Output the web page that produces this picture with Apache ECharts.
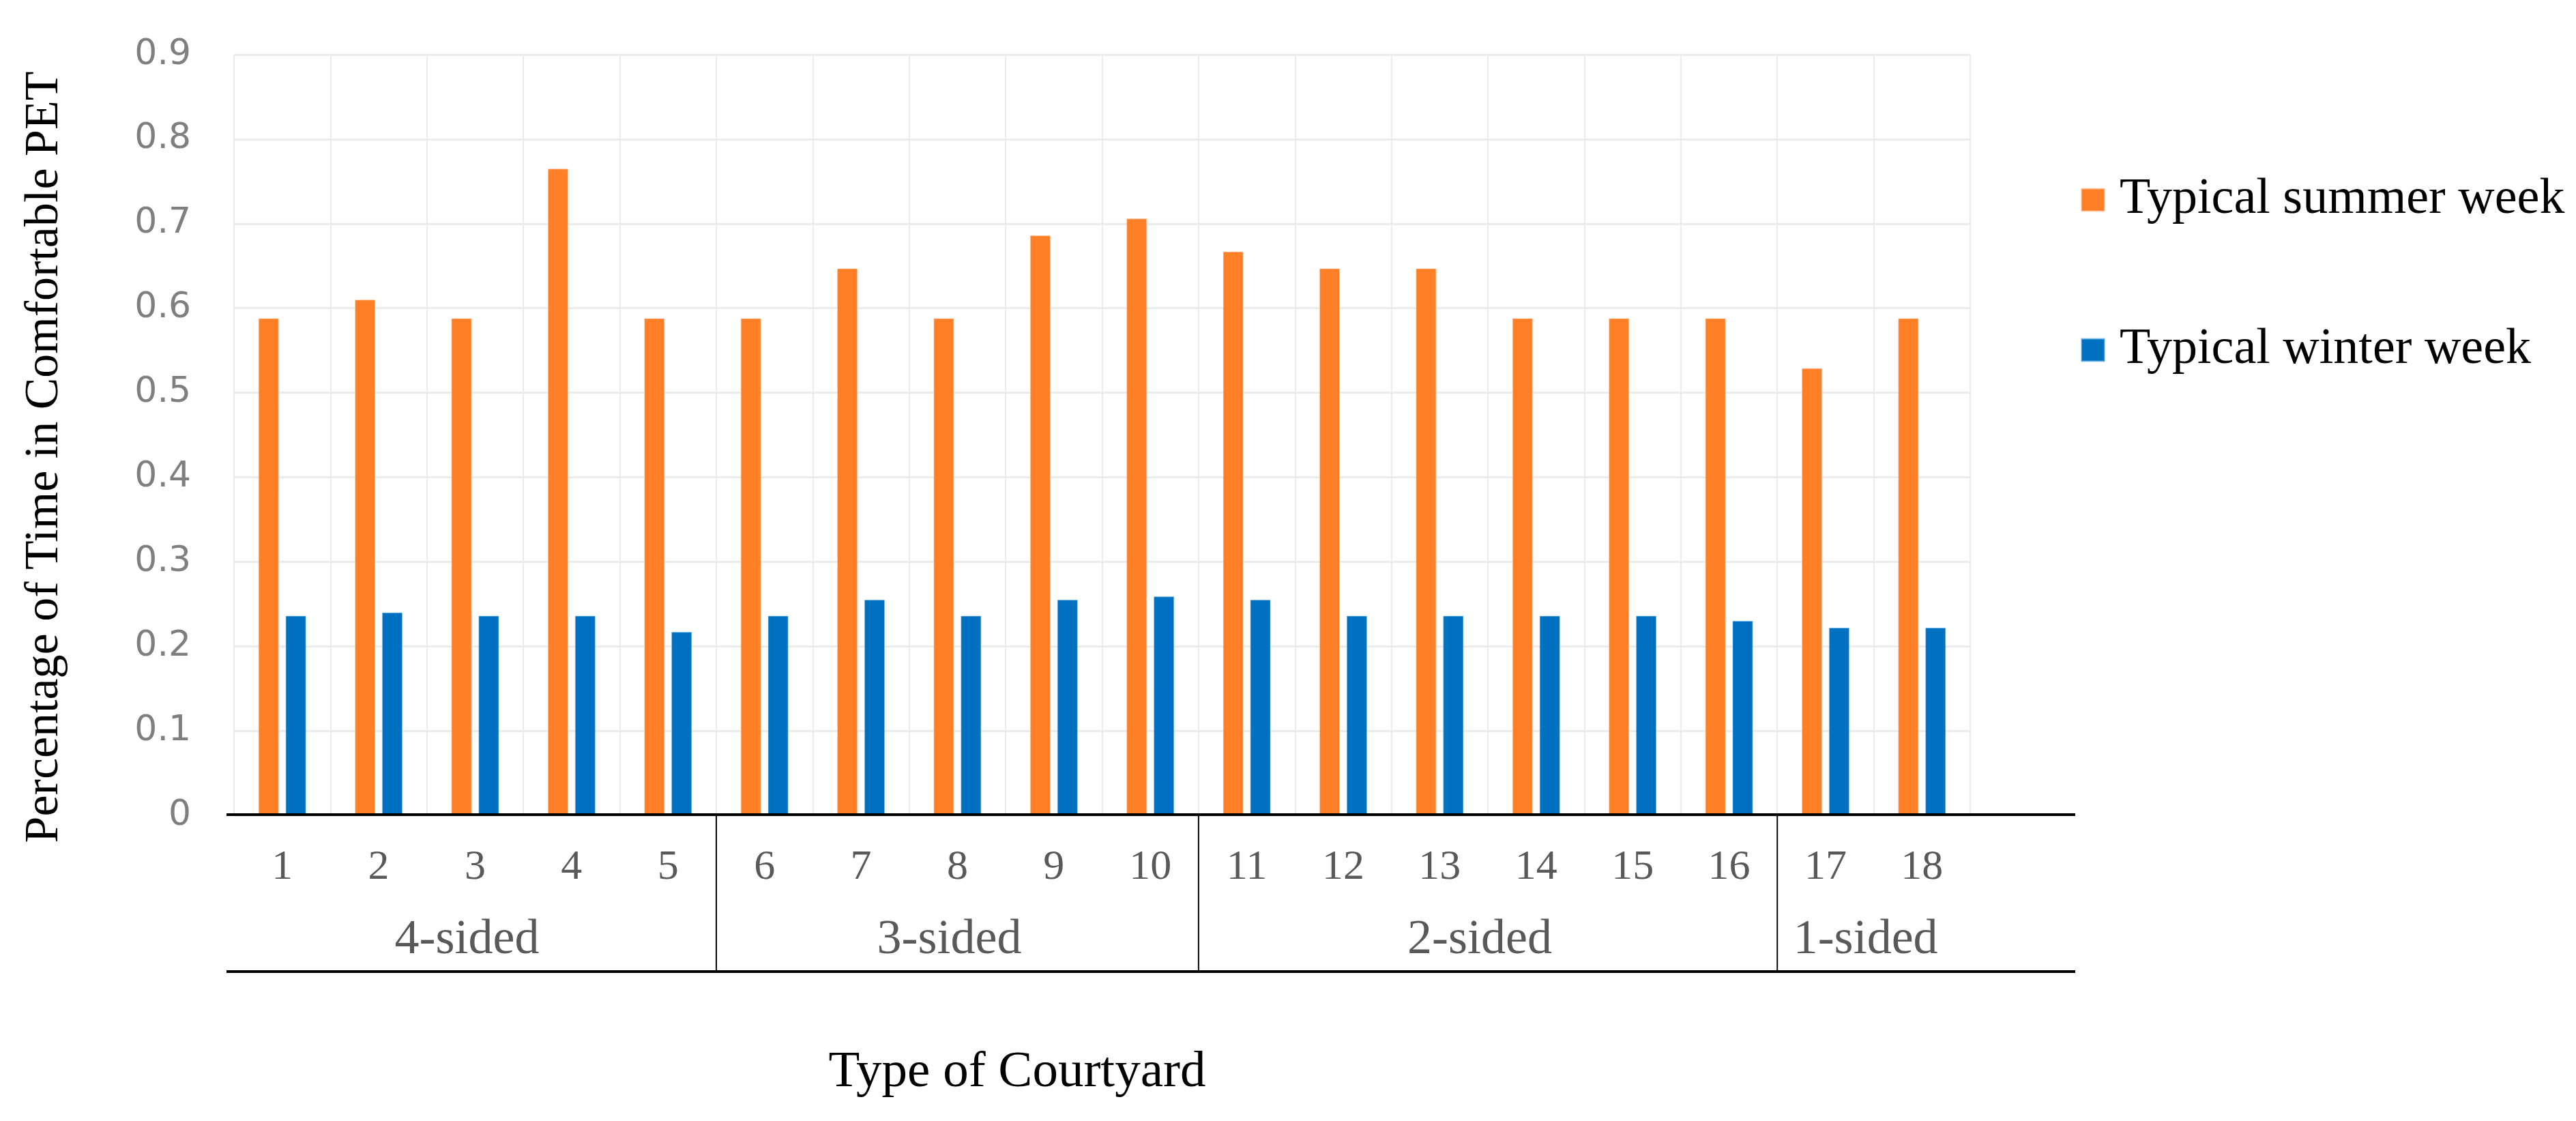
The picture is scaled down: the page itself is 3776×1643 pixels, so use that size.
<!DOCTYPE html>
<html>
<head>
<meta charset="utf-8">
<script src="https://cdn.jsdelivr.net/npm/echarts@6/dist/echarts.min.js"></script>
<style>html,body{margin:0;padding:0;background:#fff;}#c{width:3776px;height:1643px;}</style>
</head>
<body>
<div id="c"></div>
<script>
// ---- data ----
var categories = ['1','2','3','4','5','6','7','8','9','10','11','12','13','14','15','16','17','18'];
var summer = [0.588,0.610,0.588,0.765,0.588,0.588,0.647,0.588,0.686,0.706,0.667,0.647,0.647,0.588,0.588,0.588,0.529,0.588];
var winter = [0.236,0.240,0.236,0.236,0.217,0.236,0.255,0.236,0.255,0.259,0.255,0.236,0.236,0.236,0.236,0.230,0.222,0.222];
var groupNames = ['4-sided','3-sided','2-sided','1-sided'];
var groupSizes = [5,5,6,2];
var seriesNames = ['Typical summer week','Typical winter week'];
var yTicks = {min:0, max:0.9, interval:0.1};

var serif = '"Liberation Serif","Times New Roman",serif';
var chart = echarts.init(document.getElementById('c'), null, {renderer:'canvas'});
var gridLeft = 343, gridRight = 888, gridTop = 80, gridBottom = 448;

chart.setOption({
  animation:false,
  backgroundColor:'#ffffff',
  grid:{left:gridLeft, right:gridRight, top:gridTop, bottom:gridBottom, containLabel:false},
  legend:{
    orient:'vertical', left:3045, top:248, itemWidth:34, itemHeight:33, itemGap:140,
    icon:'rect',
    textStyle:{fontFamily:serif, fontSize:74, color:'#000', lineHeight:80, padding:[0,0,0,17]},
    data:seriesNames
  },
  xAxis:{
    type:'category', data:categories,
    axisLine:{show:false}, axisTick:{show:false},
    axisLabel:{fontFamily:serif, fontSize:62, color:'#595959', margin:46},
    splitLine:{show:true, lineStyle:{color:'#ebebeb', width:2}}
  },
  yAxis:{
    type:'value', min:yTicks.min, max:yTicks.max, interval:yTicks.interval,
    axisLine:{show:false}, axisTick:{show:false},
    axisLabel:{fontFamily:'"DejaVu Sans",sans-serif', fontSize:52, color:'#7f7f7f', margin:63,
      formatter:function(v){return v===0?'0':v.toFixed(1);}},
    splitLine:{show:true, lineStyle:{color:'#ebebeb', width:3}}
  },
  series:[
    {name:seriesNames[0], type:'bar', data:summer, barWidth:30, barGap:'33%',
     itemStyle:{color:'#ff7f27', borderColor:'rgba(255,200,170,0.6)', borderWidth:1}},
    {name:seriesNames[1], type:'bar', data:winter, barWidth:30, barGap:'33%',
     itemStyle:{color:'#0070c0', borderColor:'rgba(120,190,240,0.6)', borderWidth:1}}
  ]
});

// ---- multi-level axis drawn from the axis scale ----
var c0 = chart.convertToPixel({xAxisIndex:0}, 0);
var c1 = chart.convertToPixel({xAxisIndex:0}, 1);
var step = c1 - c0;
function boundary(i){ return chart.convertToPixel({xAxisIndex:0}, i) - step/2; }
var y0 = chart.convertToPixel({yAxisIndex:0}, 0);
var plotRight = boundary(categories.length);
var axisStart = gridLeft - 11, axisEnd = plotRight + 154;
var tableBottom = y0 + 229;
var g = [];
g.push({type:'line', shape:{x1:axisStart,y1:y0-1,x2:axisEnd,y2:y0-1}, style:{stroke:'#000',lineWidth:4}, z:10});
g.push({type:'line', shape:{x1:axisStart,y1:tableBottom,x2:axisEnd,y2:tableBottom}, style:{stroke:'#000',lineWidth:4}, z:10});
var idx = 0;
for (var k=0; k<groupNames.length; k++){
  var start = idx, end = idx + groupSizes[k];
  var xs = boundary(start), xe = boundary(end);
  if (k>0){
    g.push({type:'line', shape:{x1:xs,y1:y0,x2:xs,y2:tableBottom}, style:{stroke:'#000',lineWidth:2}, z:10});
  }
  g.push({type:'text', x:(xs+xe)/2 - 12, y:y0+183,
    style:{text:groupNames[k], font:'72px '+serif, fill:'#595959', textAlign:'center', textVerticalAlign:'middle'}});
  idx = end;
}
g.push({type:'text', x:1491, y:1572,
  style:{text:'Type of Courtyard', font:'75px '+serif, fill:'#000', textAlign:'center', textVerticalAlign:'middle'}});
g.push({type:'text', x:66, y:670, rotation:Math.PI/2,
  style:{text:'Percentage of Time in Comfortable PET', font:'70px '+serif, fill:'#000', textAlign:'center', textVerticalAlign:'middle'}});
chart.setOption({graphic:g});
</script>
</body>
</html>
